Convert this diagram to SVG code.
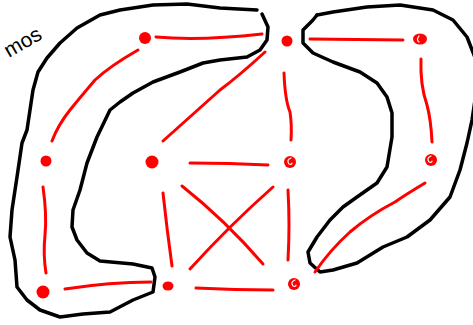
<svg xmlns="http://www.w3.org/2000/svg" width="473" height="325" viewBox="0 0 473 325">
<style>
.outline{fill:none;stroke:#000;stroke-width:3.5;stroke-linecap:round;stroke-linejoin:round}
.edge{fill:none;stroke:#ff0000;stroke-width:3;stroke-linecap:round;stroke-linejoin:round}
.dot{fill:#ff0000}
.hl{fill:none;stroke:#fff;stroke-width:1.2;stroke-linecap:round}
.label{font-family:"Liberation Sans",Arial,sans-serif;font-size:21px;fill:#000}
</style>
<rect width="473" height="325" fill="#fff"/>
<g id="outlines">
<path class="outline" d="M257,10 L220,8 L187,4 L153,5 L120,10 L100,15 L77,28 L60,43 L47,58 L38,72 L33,90 L30,110 L27,130 L22,143 L17,177 L12,210 L10,237 L15,260 L17,287 L27,300 L40,310 L60,317 L83,314 L110,312 L133,300 L153,292 L155,277 L152,268 L133,264 L100,261 L87,253 L77,240 L72,227 L73,210 L80,190 L87,163 L97,137 L110,110 L120,102 L133,93 L153,82 L180,72 L203,63 L220,60 L247,57 L260,50 L267,40 L268,27 L262,14"/>
<path class="outline" d="M317,15 L333,12 L367,7 L400,5 L433,10 L453,20 L467,37 L476,60 L478,100"/>
<path class="outline" d="M317,15 L313,20 L303,30 L303,43 L313,53 L333,62 L360,72 L377,83 L387,97 L392,113 L392,137 L387,167 L377,183 L357,197 L343,207 L330,220 L317,237 L308,252 L310,263 L320,272 L333,270 L357,263 L383,247 L407,237 L430,220 L450,197 L460,170 L467,143 L472,120 L475,100"/>
</g>
<g id="connectors">
<path id="e-A-B" class="edge" d="M156,37 Q200,41 262,34"/>
<path id="e-A-D" class="edge" d="M138,50 Q110,66 95,80 Q78,100 70,110 Q58,125 52,141"/>
<path id="e-B-E" class="edge" d="M265,52 Q240,75 220,90 Q200,108 163,141"/>
<path id="e-B-F" class="edge" d="M284,73 Q285,100 290,112 Q292,125 291,140"/>
<path id="e-B-C" class="edge" d="M310,39 L403,40"/>
<path id="e-C-G" class="edge" d="M421,59 Q420,85 427,105 Q431,120 432,142"/>
<path id="e-D-H" class="edge" d="M43,187 Q47,215 45,235 Q43,255 46,273"/>
<path id="e-H-I" class="edge" d="M65,289 Q110,282 151,282"/>
<path id="e-E-F" class="edge" d="M190,163 Q230,163 268,165"/>
<path id="e-E-I" class="edge" d="M163,193 Q167,230 172,266"/>
<path id="e-F-J" class="edge" d="M288,190 Q290,225 288,260"/>
<path id="e-I-J" class="edge" d="M196,288 Q235,290 273,290"/>
<path id="e-X1" class="edge" d="M182,186 Q225,220 263,264"/>
<path id="e-X2" class="edge" d="M273,187 Q230,225 190,269"/>
<path id="e-G-J" class="edge" d="M425,183 Q405,195 395,202 Q370,215 350,232 Q330,250 315,272"/>
</g>
<g id="node-A"><circle class="dot" cx="145" cy="38" r="6"/></g>
<g id="node-B"><circle class="dot" cx="287" cy="41" r="5.5"/></g>
<g id="node-C"><ellipse class="dot" cx="420" cy="39" rx="7" ry="5.5"/><path class="hl" d="M419,36 Q416,40 419,42"/></g>
<g id="node-D"><circle class="dot" cx="46" cy="161" r="5.5"/></g>
<g id="node-E"><circle class="dot" cx="152" cy="162" r="6.5"/></g>
<g id="node-F"><circle class="dot" cx="290" cy="162" r="6"/><path class="hl" d="M291,158 Q286,160 289,164 Q292,165 292,163"/></g>
<g id="node-G"><circle class="dot" cx="431" cy="160" r="6"/><path class="hl" d="M431,156 Q426,158 429,162 Q432,163 432,161"/></g>
<g id="node-H"><circle class="dot" cx="43" cy="292" r="6.5"/></g>
<g id="node-I"><ellipse class="dot" cx="168" cy="286" rx="5.5" ry="4.5"/></g>
<g id="node-J"><circle class="dot" cx="294" cy="284" r="6"/><path class="hl" d="M295,280 Q290,282 293,286 Q296,287 296,285"/></g>
<text class="label" x="9" y="58" transform="rotate(-30 9 58)">mos</text>
</svg>
